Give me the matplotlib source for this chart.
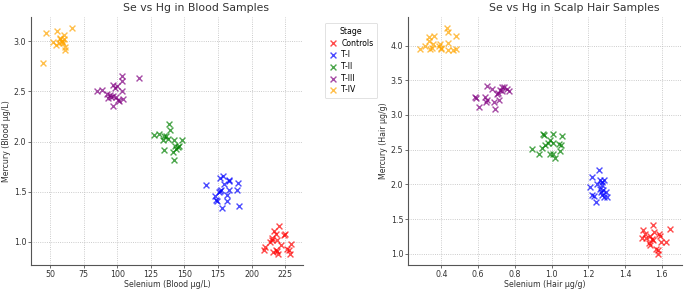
import matplotlib
matplotlib.use("Agg")
import matplotlib.pyplot as plt

stages = ["Controls", "T-I", "T-II", "T-III", "T-IV"]
colors = ["red", "blue", "green", "purple", "orange"]

# Blood samples: selenium (ug/L), mercury (ug/L)
blood_se = {
    "Controls": [220.3, 216.7, 217.9, 214.7, 223.7, 224.8, 213.4, 215.1, 219.0, 221.4,
                 209.1, 209.8, 228.9, 217.9, 219.1, 215.9, 219.6, 226.5, 227.5, 228.4],
    "T-I": [165.7, 176.7, 178.7, 182.8, 183.3, 189.7, 188.9, 179.2, 177.5, 176.3,
            182.8, 181.6, 172.5, 173.5, 174.3, 181.6, 178.0, 190.2, 175.5],
    "T-II": [127.7, 131.4, 134.6, 133.8, 135.0, 138.7, 139.5, 137.5, 142.4, 143.1,
             141.7, 141.9, 145.3, 146.1, 148.0, 143.6, 136.3],
    "T-III": [103.9, 103.9, 116.2, 85.3, 88.5, 97.1, 99.5, 98.3, 103.2, 92.6,
              93.4, 95.3, 99.0, 100.7, 101.4, 104.4, 96.6, 94.6, 97.1],
    "T-IV": [66.4, 47.3, 55.4, 45.1, 52.5, 54.2, 57.8, 58.6, 59.1, 60.3,
             59.8, 60.8, 61.5, 61.5, 57.4, 56.6],
}
blood_hg = {
    "Controls": [1.16, 1.11, 1.08, 1.04, 1.07, 1.08, 1.00, 1.02, 1.02, 0.97,
                 0.92, 0.95, 0.98, 0.92, 0.91, 0.90, 0.88, 0.93, 0.92, 0.88],
    "T-I": [1.57, 1.64, 1.66, 1.61, 1.62, 1.59, 1.52, 1.58, 1.52, 1.51,
            1.52, 1.47, 1.46, 1.42, 1.41, 1.41, 1.34, 1.36, 1.50],
    "T-II": [2.06, 2.07, 2.05, 2.01, 1.92, 2.17, 2.11, 2.02, 2.01, 1.96,
             1.90, 1.82, 1.95, 1.96, 2.01, 1.93, 2.05],
    "T-III": [2.65, 2.60, 2.63, 2.50, 2.51, 2.56, 2.55, 2.53, 2.50, 2.47,
              2.43, 2.44, 2.44, 2.41, 2.40, 2.42, 2.35, 2.46, 2.45],
    "T-IV": [3.13, 3.08, 3.10, 2.78, 2.99, 2.96, 3.02, 3.00, 2.99, 3.06,
             2.98, 3.02, 2.94, 2.91, 3.03, 2.98],
}

# Scalp hair samples: selenium (ug/g), mercury (ug/g)
hair_se = {
    "Controls": [1.551, 1.642, 1.497, 1.506, 1.515, 1.494, 1.533, 1.546, 1.530, 1.533,
                 1.560, 1.587, 1.591, 1.596, 1.569, 1.578, 1.578, 1.624, 1.553],
    "T-I": [1.257, 1.219, 1.208, 1.219, 1.230, 1.241, 1.248, 1.263, 1.272, 1.277,
            1.263, 1.268, 1.272, 1.284, 1.298, 1.304, 1.286, 1.280],
    "T-II": [0.892, 0.933, 0.946, 0.951, 0.958, 0.964, 0.991, 1.005, 0.991, 1.005,
             1.018, 1.009, 1.042, 1.049, 1.056, 1.045, 0.982],
    "T-III": [0.584, 0.590, 0.602, 0.648, 0.675, 0.639, 0.648, 0.644, 0.684, 0.693,
              0.701, 0.708, 0.712, 0.720, 0.729, 0.742, 0.756, 0.770, 0.729],
    "T-IV": [0.286, 0.313, 0.331, 0.331, 0.337, 0.349, 0.355, 0.362, 0.391, 0.396,
             0.400, 0.431, 0.434, 0.436, 0.436, 0.463, 0.481, 0.481, 0.386],
}
hair_hg = {
    "Controls": [1.42, 1.35, 1.34, 1.29, 1.23, 1.22, 1.25, 1.21, 1.15, 1.12,
                 1.31, 1.28, 1.26, 1.17, 1.07, 1.05, 1.00, 1.17, 1.20],
    "T-I": [2.21, 2.11, 1.96, 1.84, 1.83, 1.75, 2.00, 2.06, 2.04, 1.99,
            1.94, 1.89, 1.84, 1.82, 1.89, 1.82, 2.06, 1.92],
    "T-II": [2.51, 2.44, 2.53, 2.73, 2.71, 2.57, 2.64, 2.73, 2.44, 2.44,
             2.38, 2.59, 2.58, 2.57, 2.70, 2.48, 2.60],
    "T-III": [3.26, 3.24, 3.11, 3.42, 3.38, 3.26, 3.22, 3.19, 3.18, 3.09,
              3.30, 3.31, 3.22, 3.36, 3.41, 3.40, 3.37, 3.35, 3.34],
    "T-IV": [3.95, 3.99, 4.12, 4.06, 3.95, 3.96, 4.02, 4.14, 4.03, 3.96,
             3.95, 4.25, 4.20, 4.04, 3.94, 3.94, 3.95, 4.14, 3.99],
}


def style_axes(ax):
    for side in ["top", "right"]:
        ax.spines[side].set_visible(False)
    for side in ["left", "bottom"]:
        ax.spines[side].set_color("#555555")
        ax.spines[side].set_linewidth(0.8)
    ax.grid(True, linestyle=":", color="#bbbbbb", linewidth=0.6)
    ax.set_axisbelow(True)
    ax.tick_params(labelsize=5.7, length=2, width=0.5, colors="#333333", pad=1.5)


fig = plt.figure(figsize=(6.85, 2.89), dpi=100)
ax1 = fig.add_axes([31 / 685, 24 / 289, 272 / 685, 248 / 289])
ax2 = fig.add_axes([408 / 685, 24 / 289, 274 / 685, 248 / 289])

for stage, c in zip(stages, colors):
    ax1.scatter(blood_se[stage], blood_hg[stage], marker="x", color=c, alpha=0.7,
                s=18, linewidths=1.0, label=stage)
    ax2.scatter(hair_se[stage], hair_hg[stage], marker="x", color=c, alpha=0.7,
                s=18, linewidths=1.0, label=stage)

style_axes(ax1)
style_axes(ax2)

ax1.set_title("Se vs Hg in Blood Samples", fontsize=7.8, color="#333333", pad=4, x=0.605)
ax1.set_xlabel("Selenium (Blood µg/L)", fontsize=5.7, color="#333333", labelpad=0.5)
ax1.set_ylabel("Mercury (Blood µg/L)", fontsize=5.7, color="#333333", labelpad=2)
ax1.set_xticks([50, 75, 100, 125, 150, 175, 200, 225])
ax1.set_yticks([1.0, 1.5, 2.0, 2.5, 3.0])

ax2.set_title("Se vs Hg in Scalp Hair Samples", fontsize=7.8, color="#333333", pad=4, x=0.605)
ax2.set_xlabel("Selenium (Hair µg/g)", fontsize=5.7, color="#333333", labelpad=0.5)
ax2.set_ylabel("Mercury (Hair µg/g)", fontsize=5.7, color="#333333", labelpad=2)
ax2.set_yticks([1.0, 1.5, 2.0, 2.5, 3.0, 3.5, 4.0])

handles, labels = ax1.get_legend_handles_labels()
leg = fig.legend(handles, labels, title="Stage", loc="upper left",
                 bbox_to_anchor=(321 / 685, 1 - 19 / 289), fontsize=5.6,
                 title_fontsize=5.6, frameon=True, handletextpad=0.4,
                 borderpad=0.5, labelspacing=0.35, handlelength=1.2)
leg.get_frame().set_edgecolor("#cccccc")
leg.get_frame().set_linewidth(0.5)

fig.savefig("out.png", dpi=100)
